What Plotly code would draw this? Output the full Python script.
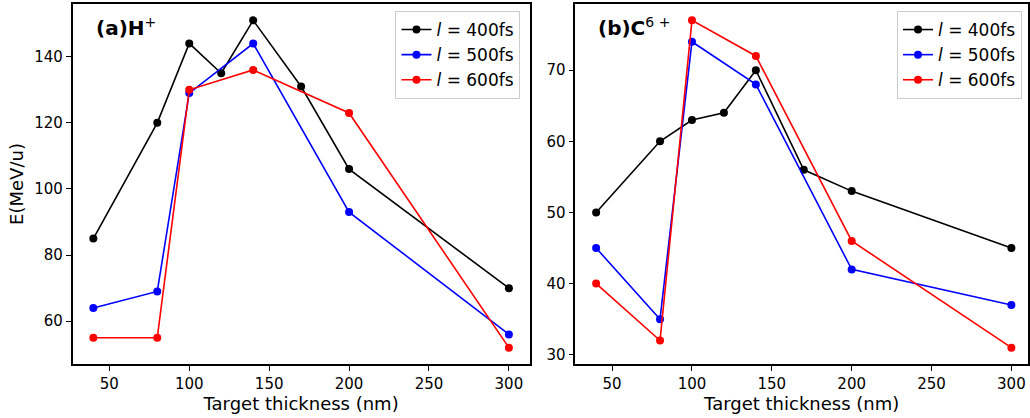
import plotly.graph_objects as go

# ---- data ----
thick_400 = [40, 80, 100, 120, 140, 170, 200, 300]
thick_other = [40, 80, 100, 140, 200, 300]

h_400 = [85, 120, 144, 135, 151, 131, 106, 70]
h_500 = [64, 69, 129, 144, 93, 56]
h_600 = [55, 55, 130, 136, 123, 52]

c_400 = [50, 60, 63, 64, 70, 56, 53, 45]
c_500 = [45, 35, 74, 68, 42, 37]
c_600 = [40, 32, 77, 72, 46, 31]

labels = ["<i>l</i> = 400fs", "<i>l</i> = 500fs", "<i>l</i> = 600fs"]
colors = ["black", "blue", "red"]

W, H = 1030, 418
FONT = "DejaVu Sans, Liberation Sans, sans-serif"

fig = go.Figure()

def add(xs, ys, name, color, xa, ya, legend):
    fig.add_trace(go.Scatter(
        x=xs, y=ys, mode="lines+markers", name=name,
        line=dict(color=color, width=1.6),
        marker=dict(color=color, size=8),
        xaxis=xa, yaxis=ya, legend=legend,
    ))

add(thick_400, h_400, labels[0], colors[0], "x", "y", "legend")
add(thick_other, h_500, labels[1], colors[1], "x", "y", "legend")
add(thick_other, h_600, labels[2], colors[2], "x", "y", "legend")
add(thick_400, c_400, labels[0], colors[0], "x2", "y2", "legend2")
add(thick_other, c_500, labels[1], colors[1], "x2", "y2", "legend2")
add(thick_other, c_600, labels[2], colors[2], "x2", "y2", "legend2")

ydom = [1 - 364 / H, 1 - 4 / H]
axis_common = dict(
    showline=True, linecolor="black", linewidth=1.5, mirror=True,
    ticks="outside", ticklen=5, tickwidth=1.3, tickcolor="black",
    showgrid=False, zeroline=False,
    tickfont=dict(family=FONT, size=15, color="black"),
)

fig.update_layout(
    width=W, height=H,
    margin=dict(l=0, r=0, t=0, b=0),
    paper_bgcolor="white", plot_bgcolor="white",
    font=dict(family=FONT, color="black"),
    showlegend=True,
    xaxis=dict(domain=[72.7 / W, 530.7 / W], range=[27, 313],
               tickvals=[50, 100, 150, 200, 250, 300], anchor="y",
               title=dict(text="Target thickness (nm)", font=dict(size=18), standoff=4),
               **axis_common),
    yaxis=dict(domain=ydom, range=[47.05, 155.95], tickvals=[60, 80, 100, 120, 140],
               anchor="x",
               title=dict(text="E(MeV/u)", font=dict(size=18), standoff=6),
               **axis_common),
    xaxis2=dict(domain=[576.5 / W, 1.0], range=[27, 310.4],
                tickvals=[50, 100, 150, 200, 250, 300], anchor="y2",
                title=dict(text="Target thickness (nm)", font=dict(size=18), standoff=4),
                **axis_common),
    yaxis2=dict(domain=ydom, range=[28.7, 79.3], tickvals=[30, 40, 50, 60, 70],
                anchor="x2", **axis_common),
    legend=dict(x=521.5 / W, y=1 - 11 / H, xanchor="right", yanchor="top",
                bgcolor="rgba(255,255,255,0.8)", bordercolor="#cccccc", borderwidth=1,
                font=dict(family=FONT, size=17)),
    legend2=dict(x=1024 / W, y=1 - 11 / H, xanchor="right", yanchor="top",
                 bgcolor="rgba(255,255,255,0.8)", bordercolor="#cccccc", borderwidth=1,
                 font=dict(family=FONT, size=17)),
    annotations=[
        dict(text="<b>(a)H</b><sup>+</sup>", xref="paper", yref="paper",
             x=94 / W, y=1 - 27 / H, xanchor="left", yanchor="middle",
             showarrow=False, font=dict(family=FONT, size=20, color="black")),
        dict(text="<b>(b)C</b><sup>6 +</sup>", xref="paper", yref="paper",
             x=597 / W, y=1 - 27 / H, xanchor="left", yanchor="middle",
             showarrow=False, font=dict(family=FONT, size=20, color="black")),
    ],
)

fig.write_html("out.html")
